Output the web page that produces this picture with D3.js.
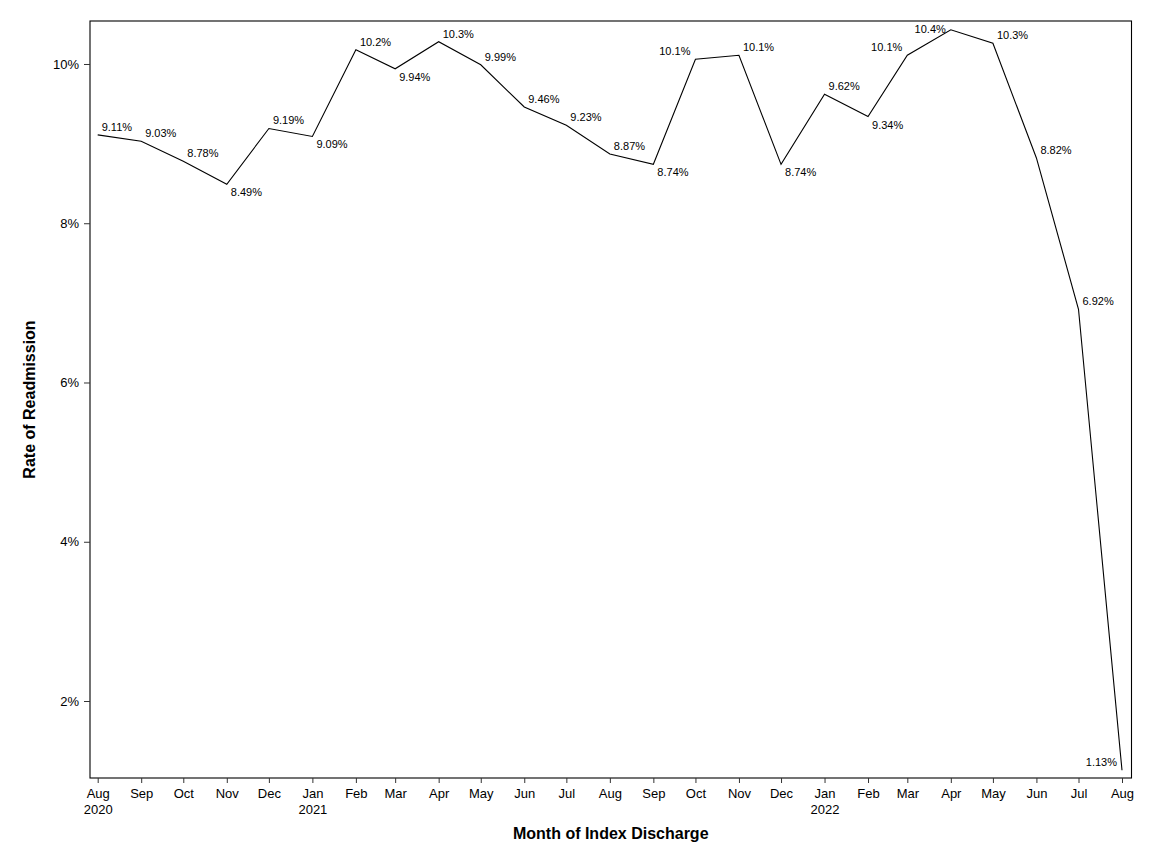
<!DOCTYPE html>
<html>
<head>
<meta charset="utf-8">
<script src="https://cdn.jsdelivr.net/npm/d3@7"></script>
<style>
  body { margin: 0; background: #fff; }
  text { font-family: "Liberation Sans", Arial, sans-serif; fill: #000; }
</style>
</head>
<body>
<div id="chart"></div>
<script>
// monthly readmission rate, Aug 2020 - Aug 2022
const months = [
  '2020-08', '2020-09', '2020-10', '2020-11', '2020-12',
  '2021-01', '2021-02', '2021-03', '2021-04', '2021-05', '2021-06',
  '2021-07', '2021-08', '2021-09', '2021-10', '2021-11', '2021-12',
  '2022-01', '2022-02', '2022-03', '2022-04', '2022-05', '2022-06',
  '2022-07', '2022-08',
]
const rates = [
  9.11, 9.03, 8.78, 8.49, 9.19,
  9.09, 10.18, 9.94, 10.28, 9.99, 9.46,
  9.23, 8.87, 8.74, 10.06, 10.11, 8.74,
  9.62, 9.34, 10.11, 10.43, 10.26, 8.82,
  6.92, 1.13,
]
// where each point label sits: ar = above right, br = below right, al = above left
const labelPos = [
  'ar', 'ar', 'ar', 'br', 'ar',
  'br', 'ar', 'br', 'ar', 'ar', 'ar',
  'ar', 'ar', 'br', 'al', 'ar', 'br',
  'ar', 'br', 'al', 'al', 'ar', 'ar',
  'ar', 'al',
]
const yTicks = [2, 4, 6, 8, 10]
const xTitle = 'Month of Index Discharge'
const yTitle = 'Rate of Readmission'

var width = 1152,
  height = 864

var plotLeft = 90,
  plotRight = 1131.5,
  plotTop = 21,
  plotBottom = 778

var parse = d3.timeParse('%Y-%m')
var data = months.map((m, i) => ({ date: parse(m), value: rates[i], pos: labelPos[i] }))

var x = d3
  .scaleTime()
  .domain([data[0].date, data[data.length - 1].date])
  .range([97.7, 1122])

var y = d3.scaleLinear().domain([1.033, 10.54]).range([plotBottom, plotTop])

var svg = d3
  .select('#chart')
  .append('svg')
  .attr('width', width)
  .attr('height', height)

// frame
svg
  .append('rect')
  .attr('x', plotLeft)
  .attr('y', plotTop)
  .attr('width', plotRight - plotLeft)
  .attr('height', plotBottom - plotTop)
  .attr('fill', 'none')
  .attr('stroke', '#000')
  .attr('stroke-width', 1.1)

// y axis
var yAxis = svg
  .append('g')
  .attr('transform', 'translate(' + plotLeft + ',0)')
  .call(
    d3
      .axisLeft(y)
      .tickValues(yTicks)
      .tickSize(6)
      .tickPadding(5)
      .tickFormat(d => d + '%')
  )
yAxis.select('.domain').remove()
yAxis.selectAll('text').style('font-size', '13px').style('font-family', '"Liberation Sans", Arial, sans-serif')
yAxis.selectAll('line').attr('stroke', '#333')

// x axis
var xAxis = svg
  .append('g')
  .attr('transform', 'translate(0,' + plotBottom + ')')
  .call(
    d3
      .axisBottom(x)
      .tickValues(data.map(d => d.date))
      .tickSize(5)
      .tickPadding(6)
      .tickFormat(d3.timeFormat('%b'))
  )
xAxis.select('.domain').remove()
xAxis.selectAll('line').attr('stroke', '#333')
xAxis.selectAll('text').style('font-size', '13px').style('font-family', '"Liberation Sans", Arial, sans-serif')

// year under first month and each January
xAxis.selectAll('.tick').each(function(d, i) {
  if (i === 0 || (d.getMonth() === 0 && i < data.length - 1)) {
    d3.select(this)
      .select('text')
      .append('tspan')
      .attr('x', 0)
      .attr('dy', '1.25em')
      .text(d.getFullYear())
  }
})

// line
var line = d3
  .line()
  .x(d => x(d.date))
  .y(d => y(d.value))

svg
  .append('path')
  .datum(data)
  .attr('d', line)
  .attr('fill', 'none')
  .attr('stroke', '#000')
  .attr('stroke-width', 1.1)

// point labels
var fmt = d3.format('.3r')
svg
  .append('g')
  .selectAll('text')
  .data(data)
  .enter()
  .append('text')
  .attr('x', d => x(d.date) + (d.pos === 'al' ? -5 : 4))
  .attr('y', function(d) {
    var yy = d.pos === 'br' ? y(d.value) + 12 : y(d.value) - 4
    return Math.max(yy, plotTop + 12)
  })
  .attr('text-anchor', d => (d.pos === 'al' ? 'end' : 'start'))
  .style('font-size', '11px')
  .text(d => fmt(d.value) + '%')

// axis titles
svg
  .append('text')
  .attr('x', (plotLeft + plotRight) / 2)
  .attr('y', 839)
  .attr('text-anchor', 'middle')
  .style('font-size', '16px')
  .style('font-weight', 'bold')
  .text(xTitle)

svg
  .append('text')
  .attr('transform', 'translate(35,' + (plotTop + plotBottom) / 2 + ') rotate(-90)')
  .attr('text-anchor', 'middle')
  .style('font-size', '16px')
  .style('font-weight', 'bold')
  .text(yTitle)
</script>
</body>
</html>
